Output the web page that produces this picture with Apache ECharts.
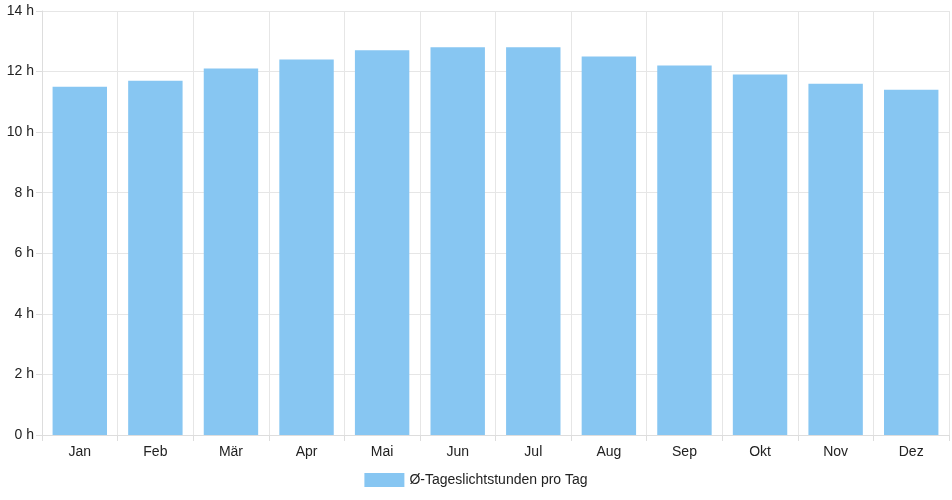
<!DOCTYPE html>
<html><head><meta charset="utf-8">
<script src="https://cdn.jsdelivr.net/npm/echarts@6/dist/echarts.min.js"></script>
<style>html,body{margin:0;padding:0;background:#fff}#c{width:952px;height:500px}</style>
</head><body><div id="c"></div>
<script>
const categories = ['Jan','Feb','Mär','Apr','Mai','Jun','Jul','Aug','Sep','Okt','Nov','Dez'];
const daylightHours = [11.5,11.7,12.1,12.4,12.7,12.8,12.8,12.5,12.2,11.9,11.6,11.4];
const seriesName = 'Ø-Tageslichtstunden pro Tag';
const chart = echarts.init(document.getElementById('c'));
const txt = {color:'#222', fontFamily:'Liberation Sans, Arial', fontSize:14};
chart.setOption({
  animation:false,
  grid:{left:42,right:3,top:11,bottom:65,containLabel:false},
  legend:{bottom:8,itemWidth:40,itemHeight:14,itemGap:10,textStyle:txt,icon:'rect',data:[seriesName]},
  xAxis:{type:'category',data:categories,
    axisLine:{lineStyle:{color:'#ddd'}},
    axisTick:{show:true,length:6,lineStyle:{color:'#ddd'}},
    axisLabel:Object.assign({margin:10},txt),
    splitLine:{show:true,lineStyle:{color:'#e6e6e6'}}},
  yAxis:{type:'value',min:0,max:14,interval:2,
    axisLine:{show:true,lineStyle:{color:'#ddd'}},
    axisTick:{show:true,length:6,lineStyle:{color:'#ddd'}},
    axisLabel:Object.assign({margin:8,formatter:v=>v+' h'},txt),
    splitLine:{lineStyle:{color:'#e6e6e6'}}},
  series:[{name:seriesName,type:'bar',data:daylightHours,barCategoryGap:'28%',
    itemStyle:{color:'#87c6f2'}}]
});
</script></body></html>
